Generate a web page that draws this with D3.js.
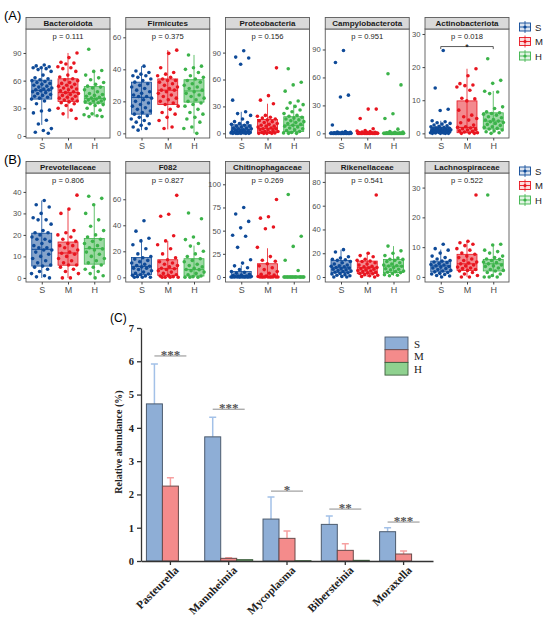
<!DOCTYPE html>
<html>
<head>
<meta charset="utf-8">
<script src="https://cdn.jsdelivr.net/npm/d3@7"></script>
<style>
body { margin: 0; background: #fff; }
</style>
</head>
<body>
<div id="fig"></div>
<script>
var groups = ["S", "M", "H"]
var colors = ["#0e4a98", "#e8151f", "#3cb34a"]

// ---- panel A: phyla ----
var phylaNames = ["Bacteroidota", "Firmicutes", "Proteobacteria", "Campylobacterota", "Actinobacteriota"]
var phylaP = ["p = 0.111", "p = 0.375", "p = 0.156", "p = 0.951", "p = 0.018"]

var bacteroidota = [
    [77,76,75,74,74,73,72,70,66,63,62,61,60,59,58,57,56,55,54,53,52,51,50,50,49,48,47,46,45,44,43,42,41,40,38,35,28,27,25,17,13,8,6,4,3],
    [90,85,80,79,78,75,74,73,70,66,64,62,61,60,58,57,56,55,54,53,52,51,50,49,48,47,46,45,44,43,42,41,40,39,38,37,36,35,33,30,28,24,19],
    [94,71,70,66,63,61,58,56,54,53,52,50,48,46,45,44,43,42,41,40,40,39,38,38,37,36,35,34,33,30,28,24,23,22,21,21]
]
var bacteroidotaBox = [[12,40,49.5,60.5,76], [19,37.5,47,62,90], [21,35.5,40.5,53.5,71]]

var firmicutes = [
    [42,39,38,37,36,36,35,34,33,32,31,30,29,28,27,26,25,24,23,23,22,21,20,19,18,17,16,15,14,13,12,11,10,9,8,7,6,5,4,3,2],
    [52,50,41,38,37,36,35,34,33,33,32,31,30,29,28,27,27,26,25,24,23,22,21,20,19,18,17,15,13,12,10,8,4,3],
    [49,42,41,40,38,36,35,34,33,32,31,30,29,28,27,26,25,24,23,22,21,20,19,18,17,15,13,12,10,9,7,4,3,0]
]
var firmicutesBox = [[2,12,22.5,32,42], [2.5,18,27,34,52], [0,19.5,26.5,33.5,49]]

var proteobacteria = [
    [92,85,84,77,37,24,22,20,16,13,12,11,10,9,8,8,7,6,6,5,5,4,4,3,3,2,2,2,1,1,1,1,0.5,0.5,0.5,0,0,0,0,0,0],
    [73,42,37,33,20,19,18,17,16,15,14,13,12,11,10,9,8,8,7,6,5,5,4,4,3,2,2,1,1,0.5,0,0,0,0],
    [72,57,54,47,36,34,32,30,28,26,24,22,20,19,18,17,16,15,14,13,12,11,10,9,8,7,6,5,4,3,2,1,0.5,0,0]
]
var proteobacteriaBox = [[0,0.5,4.5,9.5,24], [0,1,5.5,15.5,33], [0,2,9,18.5,32]]

var campylobacterota = [
    [89,76,41,39,9,2,1.5,1,1,0.5,0.5,0.3,0.2,0.1,0,0,0,0,0,0,0,0,0,0,0,0,0,0,0,0,0,0,0,0,0,0,0,0],
    [26,26,16,5,3,2.5,2,1.5,1,1,0.8,0.5,0.3,0.2,0,0,0,0,0,0,0,0,0,0,0,0,0,0,0,0,0,0],
    [64,52,21,16,4.5,2,1.5,1,0.5,0.3,0,0,0,0,0,0,0,0,0,0,0,0,0,0,0,0,0,0,0,0,0,0]
]
var campylobacterotaBox = [[0,0,0.1,0.5,1], [0,0,0.2,1,2.5], [0,0,0.1,0.5,1.5]]

var actinobacteriota = [
    [25,13.7,7.3,6.9,3.8,3.5,3.2,3,2.8,2.5,2.3,2.1,2,1.8,1.7,1.6,1.5,1.4,1.3,1.2,1.1,1,1,0.9,0.8,0.8,0.7,0.6,0.5,0.5,0.4,0.3,0.3,0.2,0.1,0.1,0,0,0,0],
    [19.5,17.4,15,14.6,14.4,14,13,10.6,10.4,9.8,7,5.5,5,4.5,4,3.2,2.5,2,1.8,1.6,1.4,1.2,1,0.8,0.6,0.4,0.2,0.1,0,0],
    [22.5,16,15.1,12.7,12.5,12,8,7.5,6.5,6.2,6,5.8,5.5,5,4.7,4.2,4,3.7,3.5,3.3,3,2.7,2.4,2,1.8,1.5,1.3,1,0.7,0.5,0.2,0]
]
var actinobacteriotaBox = [[0,0.3,1,1.8,3.8], [0,0.2,1.8,9.8,19.5], [0,1.3,3.7,6.2,12.8]]
var actinobacteriotaSig = [0, 2, 26.2, "*"]   // from group, to group, level, label

// ---- panel B: families ----
var familyNames = ["Prevotellaceae", "F082", "Chitinophagaceae", "Rikenellaceae", "Lachnospiraceae"]
var familyP = ["p = 0.806", "p = 0.827", "p = 0.269", "p = 0.541", "p = 0.522"]

var prevotellaceae = [
    [36,34,33,30,28,27,27,25,22,21,21,20,19,18,18,17,16,15,14,14,13,13,12,11,10,9,8,7,6,5.5,5,4,3,2,1,0.5,0],
    [38.5,32,30,22,21,20,19,18,17,16,15,15,14,13,12,11.5,11,10,9,8,7,6,6,5,4,3,2,0,0],
    [38,37,34,30,27,24,22,20,19,18,17,16,15,14,13.5,13,12,11,10,9,8,7,6,5,4,3,2,1,0]
]
var prevotellaceaeBox = [[0,5.5,13.3,20.8,36], [0,5.9,11.6,16.7,32.2], [0,6.4,13.6,18.3,33.8]]

var f082 = [
    [43.5,35.5,30,28,25,22,18,16,15,14,13,12,11,10,9,8.5,8,7,7,6,5,4,3,2.5,2,1.5,1,0.5,0,0,0],
    [63,48.5,47,32,28,25,22,18,15,13.5,12,11,10,9,8,7,6.6,6,5,4,3,2,1.5,1,0.5,0,0,0,0],
    [49.5,45,31,29,26,24,20,18,16,14.3,13,12,10,9,8,7,6,5.9,5,4,3,2,1,0.5,0,0,0]
]
var f082Box = [[0,2,8.4,15.3,29.5], [0,1.5,6.6,13.5,28], [0,1,5.9,14.3,24.4]]

var chitinophagaceae = [
    [75,68,60,53,45,44,32,18.6,15,12,10,8,6,5,4,3,2,1.5,1,1,0.5,0.5,0.3,0,0,0,0,0,0,0,0,0,0,0,0],
    [83.6,65,63.5,54,52,32,22,18,17,14.3,12,10,8,6,4,3,2,1,0.5,0,0,0,0,0,0,0,0,0,0],
    [89,44,33,18,7,0,0,0,0,0,0,0,0,0,0,0,0,0,0,0,0,0,0,0,0]
]
var chitinophagaceaeBox = [[0,0,1,6,12.5], [0,0,0.5,14.3,31], [0,0,0,0,0]]

var rikenellaceae = [
    [23,21,17,16,15,14.5,14,13,12,11,10,9.5,9,8.5,8,7.5,7,6.5,6,5.5,5,4.5,4,3.5,3,2.5,2,1.5,1,0.5,0,0],
    [69,20,18,17,15,14,13.4,13,12,11,10,9,8.5,8,7.8,7,6.5,6,5.5,5,4.5,4,3.5,3,2.8,2,1.5,1,0.5,0],
    [26,22,20,18,16,15,14.8,14,13,12,11,10,9.5,9.2,9,8,7,6.5,6,5,4.5,4,3.7,3,2,1.5,1]
]
var rikenellaceaeBox = [[0,3.7,7.8,14,23], [0,2.8,7.8,13.4,21], [1,3.7,9.2,14.8,26]]

var lachnospiraceae = [
    [11,9.5,9,8,7,6.5,6,5.5,5.3,5,4.8,4.5,4.2,4,3.7,3.5,3.3,3,2.8,2.5,2.2,2,1.7,1.5,1.2,1,0.8,0.5,0.3,0],
    [27.5,12,11.5,11,10.5,9.5,9,8,7.6,7,6.5,6,5.5,5,4.7,4.4,4,3.7,3.3,3,2.8,2.5,2.2,2,1.5,1,0.5,0,0],
    [27.5,11,10.7,9,8.5,8,7,6.5,6,5.9,5.5,5,4.8,4.4,4,3.7,3.5,3,2.5,2.2,2,1.5,1,0.5,0,0,0]
]
var lachnospiraceaeBox = [[0,1.7,3.7,5.3,9.2], [0,2.2,4.4,7.6,12], [0,2,4.4,5.9,10.7]]

// y ticks per facet
var phylaTicks = [[0,30,60,90], [0,20,40,60], [0,30,60,90], [0,30,60,90], [0,10,20,30]]
var familyTicks = [[0,10,20,30,40], [0,20,40,60], [0,25,50,75,100], [0,20,40,60,80], [0,10,20,30]]

// ---- panel C: genera ----
var genera = ["Pasteurella", "Mannheimia", "Mycoplasma", "Bibersteinia", "Moraxella"]
var meanS = [4.72, 3.73, 1.26, 1.10, 0.88]
var meanM = [2.25, 0.08, 0.68, 0.32, 0.21]
var meanH = [0.00, 0.04, 0.01, 0.02, 0.00]
var errS = [1.20, 0.59, 0.66, 0.25, 0.12]
var errM = [0.25, 0.02, 0.22, 0.20, 0.09]
var errH = [0, 0, 0, 0, 0]
var sigLevel = [6.16, 4.56, 2.10, 1.56, 1.17]
var sigLabel = ["***", "***", "*", "**", "***"]
var yTicksC = [0, 1, 2, 3, 4, 5, 6, 7]

var svg = d3.select("#fig").append("svg")
    .attr("width", 550)
    .attr("height", 622)
    .style("background", "#fff")

var sans = "'Liberation Sans', Arial, sans-serif"
var serif = "'Liberation Serif', 'Times New Roman', serif"

var phyla = [
    {d: bacteroidota, box: bacteroidotaBox, dom: [-2.2, 116]},
    {d: firmicutes, box: firmicutesBox, dom: [-2.9, 65.2]},
    {d: proteobacteria, box: proteobacteriaBox, dom: [-5.2, 116.3]},
    {d: campylobacterota, box: campylobacterotaBox, dom: [-5, 112]},
    {d: actinobacteriota, box: actinobacteriotaBox, dom: [-1.4, 31.5], sig: actinobacteriotaSig}
]
var families = [
    {d: prevotellaceae, box: prevotellaceaeBox, dom: [-1.9, 48.8]},
    {d: f082, box: f082Box, dom: [-3.6, 80.2]},
    {d: chitinophagaceae, box: chitinophagaceaeBox, dom: [-5.4, 112.2]},
    {d: rikenellaceae, box: rikenellaceaeBox, dom: [-4.2, 87.5]},
    {d: lachnospiraceae, box: lachnospiraceaeBox, dom: [-1.7, 34.9]}
]

addRow(phyla, phylaNames, phylaP, phylaTicks, 17.5, "(A)")
addRow(families, familyNames, familyP, familyTicks, 161.5, "(B)")
addBars()

function addRow(facets, names, pvals, ticks, top, tag) {
    svg.append("text")
        .attr("x", 4).attr("y", top + 2)
        .attr("font-family", sans).attr("font-size", 13)
        .text(tag)
    facets.forEach(function(f, i) {
        addFacet(f, names[i], pvals[i], ticks[i], 26 + i * 99.75, top)
    })
    addLegend(top + 9.5)
}

function addFacet(f, name, pval, ticks, left, top) {
    var w = 84, stripH = 11.5, h = 109
    var g = svg.append("g")
    var x = d3.scalePoint().domain(groups).range([left, left + w]).padding(0.6)
    var y = d3.scaleLinear().domain(f.dom).range([top + stripH + h, top + stripH])
    var step = x.step()

    g.append("rect")
        .attr("x", left).attr("y", top + stripH)
        .attr("width", w).attr("height", h)
        .attr("fill", "#fff")

    // boxes
    groups.forEach(function(grp, j) {
        var b = f.box[j], cx = x(grp), bw = step * 0.76
        var col = colors[j]
        g.append("line")
            .attr("x1", cx).attr("x2", cx)
            .attr("y1", y(b[0])).attr("y2", y(b[4]))
            .attr("stroke", col).attr("stroke-width", 0.8)
        g.append("rect")
            .attr("x", cx - bw / 2).attr("y", y(b[3]))
            .attr("width", bw).attr("height", Math.max(y(b[1]) - y(b[3]), 0.6))
            .attr("fill", col).attr("fill-opacity", 0.5)
            .attr("stroke", col).attr("stroke-width", 0.8)
        g.append("line")
            .attr("x1", cx - bw / 2).attr("x2", cx + bw / 2)
            .attr("y1", y(b[2])).attr("y2", y(b[2]))
            .attr("stroke", col).attr("stroke-width", 1)
    })

    // jittered points
    groups.forEach(function(grp, j) {
        g.selectAll(null)
            .data(f.d[j])
            .enter()
            .append("circle")
            .attr("cx", function(d, k) { return x(grp) + (((k + 1) * 0.618034 + j * 0.31) % 1 - 0.5) * step * 0.8 })
            .attr("cy", function(d) { return y(d) })
            .attr("r", 1.8)
            .attr("fill", colors[j])
    })

    // panel border and strip
    g.append("rect")
        .attr("x", left).attr("y", top + stripH)
        .attr("width", w).attr("height", h)
        .attr("fill", "none").attr("stroke", "#5a5a5a").attr("stroke-width", 0.9)
    g.append("rect")
        .attr("x", left).attr("y", top)
        .attr("width", w).attr("height", stripH)
        .attr("fill", "#d9d9d9").attr("stroke", "#5a5a5a").attr("stroke-width", 0.9)
    g.append("text")
        .attr("x", left + w / 2).attr("y", top + stripH / 2 + 3)
        .attr("text-anchor", "middle")
        .attr("font-family", sans).attr("font-size", 8).attr("font-weight", "bold")
        .attr("fill", "#1a1a1a")
        .text(name)
    g.append("text")
        .attr("x", left + w / 2).attr("y", top + stripH + 10)
        .attr("text-anchor", "middle")
        .attr("font-family", sans).attr("font-size", 7.6)
        .attr("fill", "#222")
        .text(pval)

    if (f.sig) {
        var s = f.sig, x1 = x(groups[s[0]]), x2 = x(groups[s[1]]), ys = y(s[2])
        g.append("path")
            .attr("d", "M" + x1 + "," + (ys + 2.5) + "V" + ys + "H" + x2 + "V" + (ys + 2.5))
            .attr("fill", "none").attr("stroke", "#333").attr("stroke-width", 0.8)
        g.append("text")
            .attr("x", (x1 + x2) / 2).attr("y", ys + 3.5)
            .attr("text-anchor", "middle")
            .attr("font-family", sans).attr("font-size", 9)
            .text(s[3])
    }

    // axes
    var ya = g.append("g")
        .attr("transform", "translate(" + left + ",0)")
        .call(d3.axisLeft(y).tickValues(ticks).tickSize(2.5).tickPadding(2))
    ya.select(".domain").remove()
    ya.selectAll("line").attr("stroke", "#444")
    ya.selectAll("text").attr("font-family", sans).attr("font-size", 7.6).attr("fill", "#4d4d4d")

    var xa = g.append("g")
        .attr("transform", "translate(0," + (top + stripH + h) + ")")
        .call(d3.axisBottom(x).tickSize(2.5).tickPadding(2))
    xa.select(".domain").remove()
    xa.selectAll("line").attr("stroke", "#444")
    xa.selectAll("text").attr("font-family", sans).attr("font-size", 9).attr("fill", "#4d4d4d")
}

function addLegend(y0) {
    groups.forEach(function(grp, j) {
        var cy = y0 + j * 14.5, cx = 525, col = colors[j]
        var k = svg.append("g")
        k.append("line")
            .attr("x1", cx).attr("x2", cx).attr("y1", cy - 6).attr("y2", cy + 6)
            .attr("stroke", col).attr("stroke-width", 0.8)
        k.append("rect")
            .attr("x", cx - 5.5).attr("y", cy - 4).attr("width", 11).attr("height", 8)
            .attr("fill", col).attr("fill-opacity", 0.15)
            .attr("stroke", col).attr("stroke-width", 0.9)
        k.append("line")
            .attr("x1", cx - 5.5).attr("x2", cx + 5.5).attr("y1", cy).attr("y2", cy)
            .attr("stroke", col).attr("stroke-width", 0.9)
        k.append("circle").attr("cx", cx).attr("cy", cy).attr("r", 1.6).attr("fill", col)
        svg.append("text")
            .attr("x", 535).attr("y", cy + 3.5)
            .attr("font-family", sans).attr("font-size", 9.5).attr("fill", "#222")
            .text(grp)
    })
}

function addBars() {
    var means = [meanS, meanM, meanH]
    var errs = [errS, errM, errH]
    var fills = ["#8eaed6", "#f48b8b", "#8fd18f"]
    var strokes = ["#4c5b6e", "#6a4b4b", "#3f5e3f"]
    var errCols = ["#a3c1e8", "#f6a0a0", "#9ad69a"]

    var x = d3.scaleBand().domain(genera).range([141, 433]).paddingInner(0.177).paddingOuter(0.093)
    var xs = d3.scaleBand().domain(groups).range([0, x.bandwidth()])
    var y = d3.scaleLinear().domain([0, 7]).range([561, 328])
    var g = svg.append("g")

    svg.append("text")
        .attr("x", 110).attr("y", 322)
        .attr("font-family", sans).attr("font-size", 12)
        .text("(C)")

    groups.forEach(function(grp, j) {
        // error bars (upper only)
        g.selectAll(null)
            .data(genera)
            .enter()
            .append("path")
            .attr("d", function(d, i) {
                if (errs[j][i] <= 0) return null
                var cx = x(d) + xs(grp) + xs.bandwidth() / 2
                var y1 = y(means[j][i]), y2 = y(means[j][i] + errs[j][i])
                return "M" + cx + "," + y1 + "V" + y2 + "M" + (cx - 3.5) + "," + y2 + "H" + (cx + 3.5)
            })
            .attr("fill", "none").attr("stroke", errCols[j]).attr("stroke-width", 1.5)

        g.selectAll(null)
            .data(genera)
            .enter()
            .append("rect")
            .attr("x", function(d) { return x(d) + xs(grp) })
            .attr("y", function(d, i) { return y(means[j][i]) })
            .attr("width", xs.bandwidth())
            .attr("height", function(d, i) { return y(0) - y(means[j][i]) })
            .attr("fill", fills[j])
            .attr("stroke", strokes[j]).attr("stroke-width", 1)
    })

    // significance lines
    g.selectAll(null)
        .data(genera)
        .enter()
        .append("line")
        .attr("x1", function(d) { return x(d) + xs("S") + xs.bandwidth() / 2 })
        .attr("x2", function(d) { return x(d) + xs("H") + xs.bandwidth() / 2 })
        .attr("y1", function(d, i) { return y(sigLevel[i]) })
        .attr("y2", function(d, i) { return y(sigLevel[i]) })
        .attr("stroke", "#8c8c8c").attr("stroke-width", 1)
    g.selectAll(null)
        .data(genera)
        .enter()
        .append("text")
        .attr("x", function(d) { return x(d) + x.bandwidth() / 2 })
        .attr("y", function(d, i) { return y(sigLevel[i]) + 3 })
        .attr("text-anchor", "middle")
        .attr("font-family", serif).attr("font-size", 13).attr("font-weight", "bold")
        .attr("fill", "#555")
        .text(function(d, i) { return sigLabel[i] })

    // axes
    var ya = svg.append("g")
        .attr("transform", "translate(141,0)")
        .call(d3.axisLeft(y).tickValues(yTicksC).tickFormat(d3.format("d"))
            .tickSize(4).tickSizeOuter(0).tickPadding(3))
    ya.selectAll("path,line").attr("stroke", "#333").attr("stroke-width", 1.3)
    ya.selectAll("text").attr("font-family", serif).attr("font-size", 10.5)
        .attr("font-weight", "bold").attr("fill", "#222")

    var xa = svg.append("g")
        .attr("transform", "translate(0,561)")
        .call(d3.axisBottom(x).tickSize(4).tickSizeOuter(0))
    xa.selectAll("path,line").attr("stroke", "#333").attr("stroke-width", 1.3)
    xa.selectAll("text")
        .attr("font-family", serif).attr("font-size", 11.5)
        .attr("font-weight", "bold").attr("fill", "#222")
        .attr("text-anchor", "end")
        .attr("dy", null)
        .attr("transform", "translate(9,10) rotate(-45)")
        .attr("y", 0).attr("x", 0)

    svg.append("text")
        .attr("transform", "translate(122,442) rotate(-90)")
        .attr("text-anchor", "middle")
        .attr("font-family", serif).attr("font-size", 10).attr("font-weight", "bold")
        .attr("fill", "#222")
        .text("Relative abundance (%)")

    // legend
    groups.forEach(function(grp, j) {
        svg.append("rect")
            .attr("x", 385).attr("y", 337 + j * 12.7)
            .attr("width", 23).attr("height", 12.7)
            .attr("fill", fills[j]).attr("stroke", strokes[j]).attr("stroke-width", 0.9)
        svg.append("text")
            .attr("x", 414).attr("y", 347.5 + j * 12.7)
            .attr("font-family", serif).attr("font-size", 11).attr("fill", "#222")
            .text(grp)
    })
}
</script>
</body>
</html>
